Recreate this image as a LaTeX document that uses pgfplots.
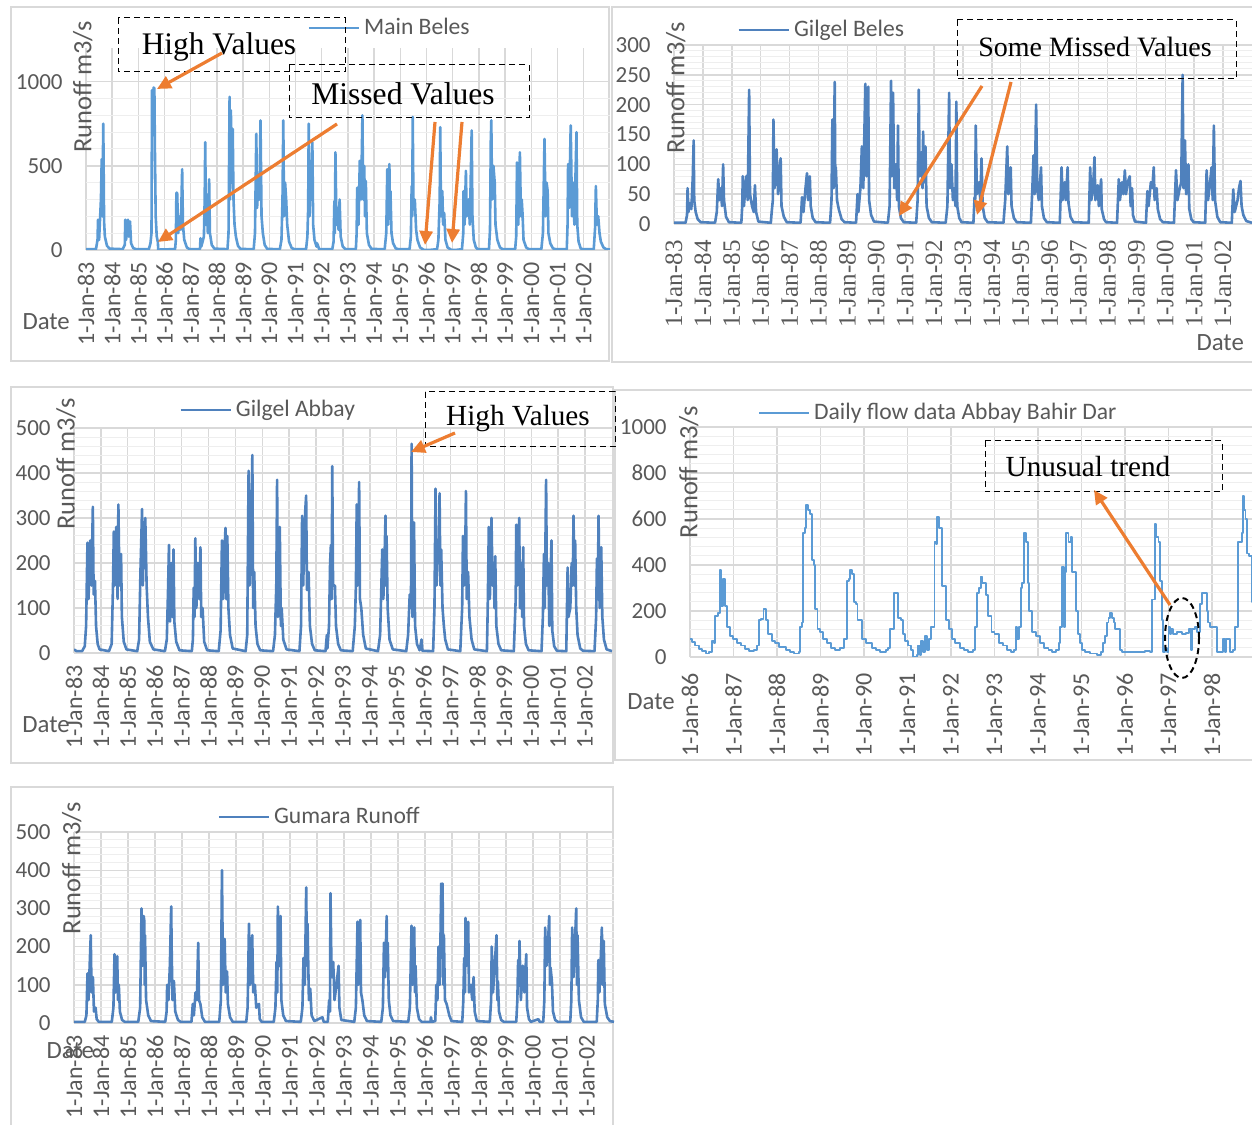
\documentclass[border=0pt]{standalone}
\usepackage{fontspec}
\setmainfont{Liberation Serif}
\setsansfont{Carlito}
\usepackage{pgfplots}
\pgfplotsset{compat=1.18}
\usetikzlibrary{arrows.meta}

\definecolor{lblue}{HTML}{5B9BD5}
\definecolor{dblue}{HTML}{4F81BD}
\definecolor{gridmaj}{HTML}{D9D9D9}
\definecolor{gridmin}{HTML}{EEEEEE}
\definecolor{txt}{HTML}{595959}
\definecolor{orng}{HTML}{ED7D31}
\definecolor{framecol}{HTML}{D9D9D9}

\pgfplotsset{
  runoff/.style={
    scale only axis,
    anchor=south west,
    axis line style={draw=none},
    major tick length=0pt,
    minor tick length=0pt,
    xmajorgrids, ymajorgrids, yminorgrids,
    major grid style={line width=0.7pt, color=gridmaj},
    minor grid style={line width=0.5pt, color=gridmin},
    minor y tick num=4,
    ymin=0,
    /pgf/number format/assume math mode=true,
    /pgf/number format/1000 sep={},
    yticklabel style={font=\sffamily\fontsize{11.5}{13}\selectfont, text=txt, anchor=east, inner sep=0pt},
    yticklabel shift=11.5pt,
    xticklabel style={font=\sffamily\fontsize{12}{14}\selectfont, text=txt, rotate=90, anchor=east, inner sep=0pt},
    xticklabel shift=6pt,
    ylabel={Runoff m3/s},
    xlabel={Date},
    ylabel style={font=\sffamily\fontsize{13.2}{15}\selectfont, text=txt, anchor=center},
    xlabel style={font=\sffamily\fontsize{12.4}{14}\selectfont, text=txt, anchor=center},
    legend style={draw=none, fill=none, anchor=west, inner sep=0pt,
      font=\sffamily\fontsize{11.8}{14}\selectfont, text=txt},
    legend image code/.code={\draw[##1] (0pt,0pt) -- (25pt,0pt);},
    every axis plot/.append style={line width=1.3pt, line join=round, no marks},
  },
  yrs/.style={
    xmin=1983, xmax=2003,
    xtick={1983,...,2002},
    xticklabels={1-Jan-83,1-Jan-84,1-Jan-85,1-Jan-86,1-Jan-87,1-Jan-88,1-Jan-89,
      1-Jan-90,1-Jan-91,1-Jan-92,1-Jan-93,1-Jan-94,1-Jan-95,1-Jan-96,1-Jan-97,
      1-Jan-98,1-Jan-99,1-Jan-00,1-Jan-01,1-Jan-02},
  },
}

\begin{document}
\begin{tikzpicture}
\clip (0,0) rectangle (626pt,562pt);
\fill[white] (0,0) rectangle (626pt,562pt);

% panel frames, in pixel coordinates (y down)
\begin{scope}[x=0.5pt,y=-0.5pt,shift={(0pt,562pt)}]
  \draw[framecol,line width=0.8pt] (11,7) rectangle (609,361);
  \draw[framecol,line width=0.8pt] (612,7) rectangle (1262,362);
  \draw[framecol,line width=0.8pt] (11,387) rectangle (613,763);
  \draw[framecol,line width=0.8pt] (615,390) rectangle (1262,760);
  \draw[framecol,line width=0.8pt] (11,787) rectangle (613,1130);
\end{scope}

% ---------------- Main Beles
\begin{axis}[runoff, yrs, at={(43pt,437pt)}, width=262pt, height=101pt,
  ymax=1200, ytick={0,500,1000},
  ylabel style={at={(axis description cs:-0.006,0.807)}},
  xlabel style={at={(axis description cs:-0.076,-0.356)}},
  legend style={at={(axis description cs:0.422,1.099)}}]
\addplot[lblue] coordinates {
(1983.0,5)(1983.38,5)(1983.44,60)(1983.46,180)(1983.5,60)(1983.57,300)(1983.6,540)(1983.62,200)(1983.66,750)(1983.69,170)(1983.72,80)(1983.8,25)(1983.9,8)
(1984.4,5)(1984.48,30)(1984.5,180)(1984.53,60)(1984.6,180)(1984.63,80)(1984.68,170)(1984.72,40)(1984.8,12)(1984.9,5)
(1985.4,5)(1985.46,40)(1985.5,100)(1985.52,950)(1985.55,700)(1985.58,965)(1985.61,960)(1985.63,600)(1985.66,200)(1985.7,80)(1985.74,50)(1985.76,0)(1985.85,3)
(1986.4,5)(1986.43,60)(1986.45,340)(1986.48,340)(1986.52,100)(1986.58,200)(1986.62,120)(1986.67,480)(1986.7,150)(1986.75,60)(1986.85,15)(1986.95,5)
(1987.35,5)(1987.37,70)(1987.4,20)(1987.5,80)(1987.53,300)(1987.55,640)(1987.58,150)(1987.62,250)(1987.65,100)(1987.7,420)(1987.73,100)(1987.8,30)(1987.9,8)
(1988.4,5)(1988.44,100)(1988.48,910)(1988.5,300)(1988.53,830)(1988.56,400)(1988.6,720)(1988.63,300)(1988.67,150)(1988.72,80)(1988.8,25)(1988.9,6)
(1989.4,5)(1989.45,100)(1989.5,690)(1989.53,250)(1989.58,400)(1989.62,300)(1989.66,770)(1989.7,200)(1989.75,100)(1989.82,30)(1989.92,6)
(1990.4,5)(1990.46,60)(1990.5,300)(1990.53,770)(1990.56,200)(1990.6,400)(1990.64,300)(1990.68,150)(1990.75,50)(1990.85,12)(1990.95,5)
(1991.4,5)(1991.45,80)(1991.48,250)(1991.5,750)(1991.53,200)(1991.57,500)(1991.6,300)(1991.64,640)(1991.67,150)(1991.72,60)(1991.8,20)(1991.82,40)(1991.9,5)
(1992.4,5)(1992.45,50)(1992.48,290)(1992.5,100)(1992.52,580)(1992.56,150)(1992.6,250)(1992.64,120)(1992.68,300)(1992.72,80)(1992.8,20)(1992.9,5)
(1993.3,5)(1993.33,100)(1993.35,370)(1993.4,150)(1993.45,530)(1993.5,300)(1993.55,800)(1993.58,300)(1993.62,500)(1993.65,200)(1993.68,410)(1993.72,100)(1993.8,30)(1993.9,6)
(1994.4,5)(1994.46,100)(1994.5,480)(1994.53,150)(1994.58,510)(1994.6,200)(1994.62,350)(1994.66,100)(1994.72,40)(1994.82,10)(1994.92,5)
(1995.35,5)(1995.4,80)(1995.43,380)(1995.45,200)(1995.47,790)(1995.5,250)(1995.55,300)(1995.6,120)(1995.65,60)(1995.75,15)(1995.85,5)(1995.9,0)(1996.1,0)
(1996.4,5)(1996.45,60)(1996.5,300)(1996.52,730)(1996.55,200)(1996.6,350)(1996.63,150)(1996.67,220)(1996.72,60)(1996.8,15)(1996.9,5)(1996.95,0)(1997.1,0)
(1997.35,5)(1997.4,100)(1997.41,350)(1997.45,150)(1997.5,470)(1997.53,200)(1997.6,300)(1997.65,150)(1997.72,710)(1997.75,200)(1997.8,60)(1997.88,15)(1997.95,5)
(1998.38,5)(1998.42,120)(1998.45,650)(1998.47,770)(1998.5,300)(1998.55,500)(1998.6,400)(1998.63,150)(1998.7,60)(1998.8,15)(1998.9,5)
(1999.38,5)(1999.42,80)(1999.45,520)(1999.5,150)(1999.56,580)(1999.6,200)(1999.63,300)(1999.66,220)(1999.7,60)(1999.8,15)(1999.9,5)
(2000.38,5)(2000.44,100)(2000.47,380)(2000.5,660)(2000.54,200)(2000.58,400)(2000.62,350)(2000.65,100)(2000.72,40)(2000.82,10)(2000.92,5)
(2001.35,5)(2001.38,150)(2001.4,510)(2001.44,250)(2001.5,740)(2001.55,200)(2001.6,400)(2001.64,150)(2001.72,700)(2001.75,150)(2001.8,50)(2001.88,10)(2001.95,5)
(2002.38,5)(2002.43,130)(2002.46,380)(2002.5,150)(2002.55,200)(2002.6,100)(2002.65,50)(2002.75,15)(2002.85,5)(2003.0,3)
};
\addlegendentry{Main Beles}
\end{axis}

% ---------------- Gilgel Beles
\begin{axis}[runoff, yrs, at={(337pt,450pt)}, width=289pt, height=89.5pt,
  ymax=300, ytick={0,50,...,300},
  xticklabel style={font=\rmfamily\fontsize{12.5}{14}\selectfont},
  xticklabel shift=8pt,
  ylabel style={at={(axis description cs:0.003,0.76)}},
  xlabel style={at={(axis description cs:0.945,-0.665)}},
  legend style={at={(axis description cs:0.109,1.084)}}]
\addplot[dblue] coordinates {
(1983.0,2)(1983.4,2)(1983.45,15)(1983.47,60)(1983.5,20)(1983.55,35)(1983.6,25)(1983.65,80)(1983.68,140)(1983.7,40)(1983.75,20)(1983.82,8)(1983.92,3)
(1984.42,2)(1984.48,20)(1984.53,75)(1984.57,40)(1984.62,60)(1984.66,30)(1984.7,100)(1984.73,40)(1984.8,12)(1984.9,3)
(1985.33,2)(1985.36,30)(1985.38,80)(1985.42,30)(1985.5,80)(1985.55,40)(1985.6,225)(1985.63,50)(1985.7,30)(1985.76,20)(1985.8,65)(1985.84,20)(1985.92,4)
(1986.35,2)(1986.38,20)(1986.42,40)(1986.44,175)(1986.48,60)(1986.55,125)(1986.6,50)(1986.65,90)(1986.69,110)(1986.72,30)(1986.8,12)(1986.9,3)
(1987.38,2)(1987.43,45)(1987.48,20)(1987.55,60)(1987.6,85)(1987.64,40)(1987.7,80)(1987.73,30)(1987.8,10)(1987.9,3)
(1988.4,2)(1988.45,40)(1988.48,175)(1988.52,60)(1988.56,238)(1988.58,80)(1988.6,95)(1988.64,40)(1988.7,25)(1988.8,8)(1988.9,3)
(1989.3,2)(1989.35,50)(1989.38,20)(1989.45,60)(1989.5,130)(1989.55,60)(1989.62,235)(1989.66,80)(1989.72,230)(1989.75,40)(1989.82,15)(1989.92,4)
(1990.4,2)(1990.46,30)(1990.51,240)(1990.54,80)(1990.58,220)(1990.62,60)(1990.68,100)(1990.72,40)(1990.75,165)(1990.78,30)(1990.85,10)(1990.95,3)
(1991.38,2)(1991.43,40)(1991.47,225)(1991.5,80)(1991.56,120)(1991.6,60)(1991.62,155)(1991.66,70)(1991.7,130)(1991.74,30)(1991.82,10)(1991.92,3)
(1992.4,2)(1992.46,30)(1992.52,220)(1992.55,60)(1992.6,100)(1992.65,40)(1992.7,60)(1992.74,30)(1992.77,205)(1992.8,30)(1992.87,10)(1992.95,3)
(1993.36,2)(1993.4,45)(1993.42,30)(1993.44,165)(1993.48,50)(1993.55,70)(1993.6,40)(1993.64,110)(1993.68,30)(1993.75,10)(1993.85,3)
(1994.4,2)(1994.46,40)(1994.53,130)(1994.57,50)(1994.62,80)(1994.65,95)(1994.68,30)(1994.76,10)(1994.86,3)
(1995.35,2)(1995.4,60)(1995.44,115)(1995.48,50)(1995.53,200)(1995.57,60)(1995.62,40)(1995.7,95)(1995.73,30)(1995.8,10)(1995.9,3)
(1996.35,2)(1996.41,95)(1996.45,40)(1996.52,70)(1996.56,40)(1996.62,95)(1996.65,35)(1996.72,12)(1996.82,3)
(1997.35,2)(1997.4,95)(1997.44,40)(1997.5,60)(1997.55,112)(1997.58,40)(1997.66,65)(1997.7,30)(1997.78,75)(1997.8,25)(1997.88,8)(1997.95,3)
(1998.33,2)(1998.39,75)(1998.43,40)(1998.5,70)(1998.55,50)(1998.6,90)(1998.64,50)(1998.7,70)(1998.77,80)(1998.8,30)(1998.85,60)(1998.88,15)(1998.95,4)
(1999.33,2)(1999.38,55)(1999.42,30)(1999.5,70)(1999.55,60)(1999.6,95)(1999.63,40)(1999.7,60)(1999.74,25)(1999.82,8)(1999.92,3)
(2000.3,2)(2000.37,90)(2000.42,40)(2000.5,60)(2000.55,70)(2000.6,250)(2000.63,60)(2000.68,140)(2000.72,50)(2000.8,100)(2000.83,25)(2000.9,8)(2000.98,3)
(2001.38,2)(2001.43,90)(2001.48,40)(2001.55,70)(2001.6,95)(2001.64,40)(2001.68,165)(2001.72,40)(2001.8,12)(2001.9,3)
(2002.3,2)(2002.35,58)(2002.4,20)(2002.5,40)(2002.55,60)(2002.6,72)(2002.64,30)(2002.7,15)(2002.8,5)(2003.0,2)
};
\addlegendentry{Gilgel Beles}
\end{axis}

% ---------------- Gilgel Abbay
\begin{axis}[runoff, yrs, at={(37pt,235.5pt)}, width=269pt, height=112.5pt,
  ymax=500, ytick={0,100,...,500},
  ylabel style={at={(axis description cs:-0.015,0.84)}},
  xlabel style={at={(axis description cs:-0.052,-0.32)}},
  legend style={at={(axis description cs:0.195,1.08)}}]
\addplot[dblue] coordinates {
(1983.0,8)(1983.1,4)(1983.3,4)(1983.4,15)(1983.45,60)(1983.5,245)(1983.54,120)(1983.6,250)(1983.65,150)(1983.7,325)(1983.73,130)(1983.78,160)(1983.82,60)(1983.88,20)(1983.95,8)
(1984.3,4)(1984.4,20)(1984.45,150)(1984.48,270)(1984.52,150)(1984.57,280)(1984.62,120)(1984.65,330)(1984.69,150)(1984.75,220)(1984.78,80)(1984.85,25)(1984.95,8)
(1985.35,4)(1985.42,30)(1985.47,180)(1985.53,320)(1985.56,150)(1985.6,260)(1985.65,300)(1985.7,150)(1985.75,80)(1985.82,25)(1985.95,8)
(1986.38,4)(1986.45,30)(1986.5,150)(1986.53,240)(1986.57,70)(1986.62,200)(1986.66,80)(1986.7,230)(1986.73,70)(1986.8,25)(1986.92,6)
(1987.38,4)(1987.42,30)(1987.45,145)(1987.48,80)(1987.51,255)(1987.55,100)(1987.6,200)(1987.65,120)(1987.7,235)(1987.73,80)(1987.78,100)(1987.84,25)(1987.95,6)
(1988.38,4)(1988.45,50)(1988.5,250)(1988.54,120)(1988.58,200)(1988.63,278)(1988.66,120)(1988.7,260)(1988.74,100)(1988.8,40)(1988.9,10)
(1989.38,4)(1989.44,40)(1989.49,405)(1989.53,150)(1989.58,250)(1989.63,440)(1989.66,100)(1989.7,180)(1989.75,60)(1989.82,20)(1989.92,6)
(1990.4,4)(1990.47,40)(1990.52,150)(1990.55,385)(1990.58,80)(1990.62,200)(1990.65,280)(1990.69,60)(1990.72,100)(1990.78,30)(1990.9,8)
(1991.38,4)(1991.44,60)(1991.48,305)(1991.52,150)(1991.56,250)(1991.6,320)(1991.63,350)(1991.66,140)(1991.72,180)(1991.77,60)(1991.85,20)(1991.95,6)
(1992.35,4)(1992.4,40)(1992.42,10)(1992.48,60)(1992.52,200)(1992.55,240)(1992.58,120)(1992.6,415)(1992.63,150)(1992.7,150)(1992.74,60)(1992.82,20)(1992.92,6)
(1993.36,4)(1993.44,60)(1993.48,150)(1993.51,330)(1993.54,150)(1993.6,380)(1993.63,120)(1993.68,100)(1993.75,40)(1993.85,10)
(1994.3,4)(1994.38,40)(1994.46,230)(1994.5,120)(1994.54,200)(1994.58,305)(1994.6,150)(1994.62,260)(1994.66,100)(1994.73,30)(1994.85,8)
(1995.35,4)(1995.42,40)(1995.48,130)(1995.51,100)(1995.53,150)(1995.55,465)(1995.58,80)(1995.62,200)(1995.64,290)(1995.68,60)(1995.75,20)(1995.85,6)(1995.92,30)(1995.95,5)
(1996.35,4)(1996.4,100)(1996.44,365)(1996.48,150)(1996.52,250)(1996.56,200)(1996.59,355)(1996.62,150)(1996.65,230)(1996.7,100)(1996.75,60)(1996.8,30)(1996.9,8)
(1997.36,4)(1997.4,60)(1997.43,100)(1997.46,260)(1997.5,150)(1997.54,200)(1997.57,360)(1997.6,120)(1997.65,180)(1997.7,80)(1997.78,30)(1997.88,8)
(1998.35,4)(1998.38,100)(1998.42,280)(1998.46,120)(1998.52,300)(1998.56,150)(1998.6,200)(1998.63,100)(1998.66,215)(1998.7,60)(1998.78,20)(1998.88,6)
(1999.35,4)(1999.42,120)(1999.44,285)(1999.48,150)(1999.55,300)(1999.58,100)(1999.63,200)(1999.66,80)(1999.7,235)(1999.73,60)(1999.8,20)(1999.9,6)
(2000.38,4)(2000.43,80)(2000.47,220)(2000.5,100)(2000.55,385)(2000.58,150)(2000.63,200)(2000.67,60)(2000.75,250)(2000.78,50)(2000.85,15)(2000.95,5)
(2001.3,4)(2001.35,190)(2001.38,80)(2001.45,100)(2001.5,200)(2001.54,150)(2001.57,305)(2001.6,150)(2001.63,250)(2001.67,100)(2001.72,40)(2001.82,10)(2001.92,5)
(2002.35,4)(2002.41,80)(2002.44,210)(2002.47,120)(2002.5,305)(2002.54,100)(2002.6,235)(2002.64,80)(2002.7,30)(2002.8,8)(2003.0,4)
};
\addlegendentry{Gilgel Abbay}
\end{axis}

% ---------------- Abbay Bahir Dar
\begin{axis}[runoff, at={(345pt,233.5pt)}, width=282.75pt, height=115pt,
  xmin=1986, xmax=1999, xtick={1986,...,1998},
  xticklabels={1-Jan-86,1-Jan-87,1-Jan-88,1-Jan-89,1-Jan-90,1-Jan-91,1-Jan-92,
    1-Jan-93,1-Jan-94,1-Jan-95,1-Jan-96,1-Jan-97,1-Jan-98},
  xticklabel shift=8pt,
  ymax=1000, ytick={0,200,...,1000},
  ylabel style={at={(axis description cs:-0.002,0.804)}},
  xlabel style={at={(axis description cs:-0.069,-0.196)}},
  legend style={at={(axis description cs:0.12,1.061)}}]
\addplot[lblue, const plot, line width=0.95pt] coordinates {
(1986.0,80)(1986.05,65)(1986.12,50)(1986.2,35)(1986.28,25)(1986.36,15)(1986.44,20)(1986.51,70)(1986.55,60)(1986.58,180)(1986.64,190)(1986.68,380)(1986.72,220)(1986.76,340)(1986.8,220)(1986.86,130)(1986.92,90)(1986.98,80)
(1987.07,60)(1987.17,50)(1987.27,35)(1987.36,25)(1987.48,30)(1987.55,50)(1987.59,160)(1987.64,165)(1987.69,210)(1987.74,160)(1987.8,100)(1987.88,70)(1987.95,60)
(1988.05,45)(1988.2,30)(1988.3,20)(1988.4,15)(1988.5,20)(1988.53,130)(1988.58,150)(1988.6,540)(1988.64,560)(1988.67,660)(1988.71,640)(1988.75,620)(1988.8,420)(1988.84,400)(1988.88,210)(1988.93,120)(1988.98,110)
(1989.06,80)(1989.15,60)(1989.25,40)(1989.33,30)(1989.45,40)(1989.54,80)(1989.6,330)(1989.65,340)(1989.68,380)(1989.72,360)(1989.76,240)(1989.81,230)(1989.85,160)(1989.95,80)
(1990.05,60)(1990.18,40)(1990.28,30)(1990.37,20)(1990.5,30)(1990.55,40)(1990.6,120)(1990.68,280)(1990.79,170)(1990.84,160)(1990.89,100)(1990.95,70)
(1991.01,50)(1991.08,30)(1991.12,0)(1991.22,10)(1991.25,50)(1991.28,10)(1991.32,70)(1991.35,20)(1991.4,90)(1991.44,30)(1991.5,80)(1991.55,130)(1991.59,130)(1991.62,500)(1991.65,490)(1991.68,610)(1991.73,560)(1991.8,310)(1991.88,160)(1991.95,120)
(1992.02,80)(1992.1,60)(1992.2,40)(1992.3,30)(1992.4,20)(1992.5,30)(1992.55,130)(1992.58,130)(1992.6,280)(1992.64,300)(1992.68,350)(1992.72,320)(1992.77,320)(1992.8,270)(1992.86,180)(1992.93,110)
(1993.0,100)(1993.1,60)(1993.19,50)(1993.28,30)(1993.38,20)(1993.45,30)(1993.49,130)(1993.52,80)(1993.56,130)(1993.6,300)(1993.64,320)(1993.68,540)(1993.72,500)(1993.76,320)(1993.8,200)(1993.86,110)(1993.95,90)
(1994.05,60)(1994.14,40)(1994.24,30)(1994.32,20)(1994.42,30)(1994.48,60)(1994.51,130)(1994.54,130)(1994.56,390)(1994.6,130)(1994.62,370)(1994.65,540)(1994.7,500)(1994.75,520)(1994.78,370)(1994.82,370)(1994.87,200)(1994.92,100)(1994.96,60)
(1995.02,30)(1995.08,20)(1995.2,15)(1995.35,10)(1995.45,20)(1995.5,60)(1995.53,90)(1995.58,150)(1995.62,170)(1995.66,190)(1995.7,170)(1995.74,150)(1995.78,120)(1995.83,120)(1995.88,30)(1995.93,20)
(1996.2,22)(1996.45,25)(1996.57,20)(1996.62,250)(1996.66,250)(1996.69,580)(1996.72,520)(1996.77,500)(1996.8,330)(1996.84,160)(1996.87,20)(1996.92,40)(1996.96,20)
(1997.0,130)(1997.04,100)(1997.06,120)(1997.1,100)(1997.2,110)(1997.3,100)(1997.4,105)(1997.48,120)(1997.52,30)(1997.55,120)(1997.6,130)(1997.65,110)(1997.72,230)(1997.77,280)(1997.88,200)(1997.91,150)(1997.95,130)
(1998.05,130)(1998.11,20)(1998.25,80)(1998.3,20)(1998.33,80)(1998.37,80)(1998.41,20)(1998.49,30)(1998.53,130)(1998.58,130)(1998.6,500)(1998.68,540)(1998.71,700)(1998.73,640)(1998.77,600)(1998.8,450)(1998.86,440)(1998.92,240)(1999.0,240)
};
\addlegendentry{Daily flow data Abbay Bahir Dar}
\end{axis}

% ---------------- Gumara
\begin{axis}[runoff, yrs, at={(37pt,50.5pt)}, width=270pt, height=95.5pt,
  ymax=500, ytick={0,100,...,500},
  ylabel style={at={(axis description cs:-0.004,0.81)}},
  xlabel style={at={(axis description cs:-0.007,-0.147)}},
  legend style={at={(axis description cs:0.265,1.079)}}]
\addplot[dblue] coordinates {
(1983.0,3)(1983.4,3)(1983.46,20)(1983.5,130)(1983.54,60)(1983.58,150)(1983.62,230)(1983.65,80)(1983.7,120)(1983.74,30)(1983.8,40)(1983.84,10)(1983.92,3)
(1984.4,3)(1984.46,40)(1984.5,180)(1984.54,80)(1984.6,175)(1984.63,60)(1984.66,100)(1984.7,30)(1984.78,8)(1984.88,3)
(1985.38,3)(1985.45,40)(1985.5,300)(1985.54,150)(1985.58,280)(1985.6,270)(1985.62,100)(1985.63,230)(1985.67,60)(1985.75,20)(1985.85,5)
(1986.38,3)(1986.43,30)(1986.45,100)(1986.5,60)(1986.55,150)(1986.6,305)(1986.62,180)(1986.65,60)(1986.7,110)(1986.75,30)(1986.85,8)(1986.95,3)
(1987.35,3)(1987.4,50)(1987.44,20)(1987.5,80)(1987.55,60)(1987.6,210)(1987.63,60)(1987.68,50)(1987.75,15)(1987.85,3)
(1988.38,3)(1988.44,60)(1988.48,400)(1988.52,100)(1988.55,150)(1988.58,220)(1988.62,80)(1988.67,135)(1988.7,50)(1988.78,15)(1988.88,3)
(1989.38,3)(1989.43,40)(1989.45,120)(1989.48,260)(1989.52,100)(1989.56,120)(1989.6,230)(1989.64,80)(1989.7,100)(1989.75,40)(1989.85,50)(1989.88,10)(1989.95,3)
(1990.4,3)(1990.46,40)(1990.5,160)(1990.53,80)(1990.55,305)(1990.6,150)(1990.65,280)(1990.68,60)(1990.75,20)(1990.85,5)
(1991.4,3)(1991.46,40)(1991.5,170)(1991.55,100)(1991.6,355)(1991.63,150)(1991.65,260)(1991.7,60)(1991.75,90)(1991.8,20)(1991.9,5)(1992.2,15)(1992.25,3)
(1992.4,3)(1992.45,60)(1992.48,30)(1992.5,340)(1992.54,120)(1992.6,160)(1992.65,60)(1992.72,100)(1992.8,150)(1992.83,40)(1992.9,8)
(1993.38,3)(1993.44,40)(1993.5,265)(1993.53,100)(1993.55,150)(1993.6,270)(1993.63,80)(1993.68,60)(1993.75,20)(1993.85,5)
(1994.38,3)(1994.44,40)(1994.48,210)(1994.52,120)(1994.58,280)(1994.6,150)(1994.62,210)(1994.66,60)(1994.72,20)(1994.82,5)
(1995.38,3)(1995.44,40)(1995.5,255)(1995.54,100)(1995.6,250)(1995.63,80)(1995.65,150)(1995.7,40)(1995.78,10)(1995.88,3)
(1996.2,3)(1996.22,15)(1996.25,3)(1996.38,5)(1996.42,100)(1996.46,60)(1996.5,200)(1996.55,100)(1996.6,365)(1996.62,200)(1996.65,365)(1996.68,100)(1996.7,230)(1996.74,60)(1996.8,50)(1996.9,20)(1996.98,5)
(1997.38,3)(1997.42,60)(1997.45,170)(1997.48,80)(1997.5,275)(1997.54,150)(1997.6,265)(1997.63,80)(1997.7,100)(1997.75,60)(1997.8,120)(1997.84,30)(1997.92,5)
(1998.4,3)(1998.45,60)(1998.47,200)(1998.52,80)(1998.58,150)(1998.65,230)(1998.68,60)(1998.7,110)(1998.74,30)(1998.82,8)(1998.92,3)
(1999.38,3)(1999.42,60)(1999.45,165)(1999.48,100)(1999.5,215)(1999.55,60)(1999.62,150)(1999.68,80)(1999.75,180)(1999.78,40)(1999.85,10)(1999.92,3)
(2000.2,10)(2000.25,3)(2000.38,3)(2000.42,60)(2000.45,250)(2000.5,150)(2000.55,200)(2000.6,280)(2000.63,100)(2000.65,145)(2000.7,110)(2000.74,30)(2000.82,8)(2000.92,3)
(2001.38,3)(2001.42,60)(2001.45,250)(2001.5,120)(2001.55,200)(2001.6,300)(2001.63,100)(2001.65,230)(2001.7,60)(2001.78,15)(2001.88,3)
(2002.36,3)(2002.4,60)(2002.42,165)(2002.46,80)(2002.5,150)(2002.55,250)(2002.58,100)(2002.62,215)(2002.66,50)(2002.75,15)(2002.85,5)(2003.0,3)
};
\addlegendentry{Gumara Runoff}
\end{axis}

% annotations, in pixel coordinates (y down)
\begin{scope}[x=0.5pt,y=-0.5pt,shift={(0pt,562pt)}]
  \tikzset{note/.style={densely dashed, line width=0.5pt},
           arr/.style={orng, line width=1.6pt, -{Triangle[length=7pt,width=6.5pt]}}}
  % Main Beles
  \draw[note] (118,18) rectangle (345,72);
  \node[font=\fontsize{15.7}{18}\selectfont] at (219,47) {High Values};
  \draw[note] (289,65) rectangle (529,118);
  \node[font=\fontsize{15.8}{18}\selectfont] at (403,94) {Missed Values};
  \draw[arr] (222,53) -- (157,89);
  \draw[arr] (337,124) -- (158,242);
  \draw[arr] (435,122) -- (425,245);
  \draw[arr] (462,122) -- (452,243);
  % Gilgel Beles
  \draw[note] (957,20) rectangle (1236,79);
  \node[font=\fontsize{14}{16}\selectfont] at (1095,47) {Some Missed Values};
  \draw[arr] (982,86) -- (899,216);
  \draw[arr] (1011,82) -- (977,215);
  % Gilgel Abbay
  \draw[note] (425,392) rectangle (615,447);
  \node[font=\fontsize{14.6}{17}\selectfont] at (518,419) {High Values};
  \draw[arr] (455,433) -- (411,452);
  % Abbay Bahir Dar
  \draw[note] (985,441) rectangle (1222,492);
  \node[font=\fontsize{14.6}{17}\selectfont] at (1088,467) {Unusual trend};
  \draw[arr] (1170,605) -- (1094,490);
  \draw[line width=1pt, dash pattern=on 3pt off 2pt] (1182,638) ellipse [x radius=8.5pt, y radius=20pt];
\end{scope}
\end{tikzpicture}
\end{document}
